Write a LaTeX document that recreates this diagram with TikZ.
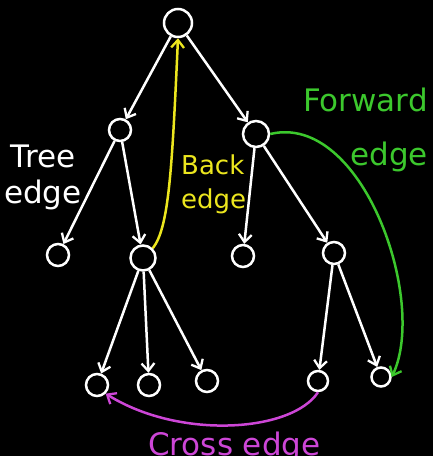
\documentclass[tikz,border=0pt]{standalone}
\usepackage{fontspec}
\setmainfont{DejaVu Sans}
\usetikzlibrary{arrows.meta}

\definecolor{backcol}{RGB}{236,230,30}
\definecolor{fwdcol}{RGB}{60,200,45}
\definecolor{crosscol}{RGB}{205,70,215}

\tikzset{
  vertex/.style={circle, draw=white, line width=2.5pt, minimum size=22pt, inner sep=0pt},
  tip/.style={-{Straight Barb[angle=80:10pt, line width=2.3pt]}},
  treeedge/.style={white, line width=2.5pt, tip},
  hand/.style={font=\fontsize{31}{36}\selectfont, inner sep=0pt}
}

\begin{document}
\begin{tikzpicture}[x=1pt, y=-1pt]
  \useasboundingbox (0,0) rectangle (433,456);
  \clip (0,0) rectangle (433,456);
  \fill[black] (0,0) rectangle (433,456);

  % the search tree
  \node[vertex, minimum size=28pt] (root) at (178,23) {};
  \node[vertex] (a) at (120,130) {};
  \node[vertex, minimum size=26pt] (b) at (256,134) {};
  \node[vertex] (aa) at (58,255) {};
  \node[vertex, minimum size=25pt] (ab) at (143,258) {};
  \node[vertex] (ba) at (243,256) {};
  \node[vertex] (bb) at (334,253) {};
  \node[vertex] (aba) at (97,385) {};
  \node[vertex] (abb) at (149,385) {};
  \node[vertex] (abc) at (207,381) {};
  \node[vertex, minimum size=20pt] (bba) at (318,381) {};
  \node[vertex, minimum size=19pt] (bbb) at (381,377) {};

  \foreach \p/\c in {root/a, root/b, a/aa, a/ab, b/ba, b/bb,
                     ab/aba, ab/abb, ab/abc, bb/bba, bb/bbb}
    \draw[treeedge] (\p) -- (\c);

  % non-tree edges
  \draw[backcol, line width=2.5pt, tip] (ab.north east)
    .. controls (169,228) and (172,170) .. (root.south);
  \draw[fwdcol, line width=2.5pt, tip] (b.east)
    .. controls (362,112) and (428,300) .. (bbb.east);
  \draw[crosscol, line width=2.5pt, tip] (bba.south)
    .. controls (292,432) and (180,440) .. (aba.south east);

  % labels
  \node[hand, white, align=center] (treelbl) at (43,177) {Tree\\edge};
  \node[hand, backcol, align=left, anchor=west, font=\fontsize{26}{34}\selectfont]
    (backlbl) at (181,184) {Back\\edge};
  \node[hand, fwdcol, align=right, anchor=north east] (fwdlbl) at (428,88)
    {Forward\\[18pt]edge};
  \node[hand, crosscol, anchor=north west] (crosslbl) at (148,432) {Cross edge};
\end{tikzpicture}
\end{document}
